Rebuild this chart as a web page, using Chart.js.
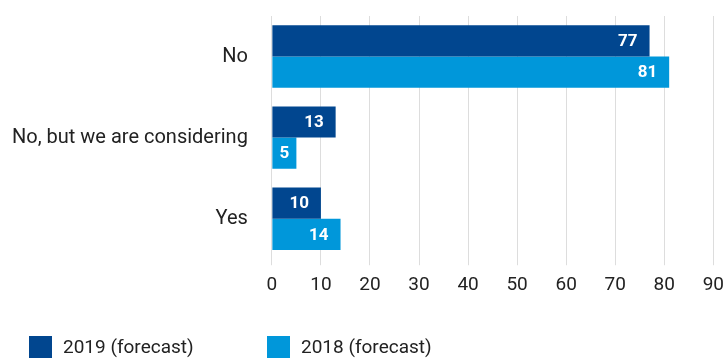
<!DOCTYPE html>
<html>
<head>
<meta charset="utf-8">
<script src="https://cdn.jsdelivr.net/npm/chart.js@4"></script>
<style>
  html, body { margin: 0; padding: 0; background: #fff; }
  #wrap { width: 727px; height: 360px; }
</style>
</head>
<body>
<div id="wrap"><canvas id="c" width="727" height="360"></canvas></div>
<script>
// Survey answers and share of respondents (%)
const categories = ['No', 'No, but we are considering', 'Yes'];
const seriesNames = ['2019 (forecast)', '2018 (forecast)'];
const values2019 = [77, 13, 10];
const values2018 = [81, 5, 14];
const xTicks = [0, 10, 20, 30, 40, 50, 60, 70, 80, 90];

const DARK = '#01468F';
const LIGHT = '#0097DA';
const FONT = 'Roboto, "Liberation Sans", sans-serif';

// White value labels at the end of each bar
const barValues = {
  id: 'barValues',
  afterDatasetsDraw(chart) {
    const ctx = chart.ctx;
    ctx.save();
    ctx.font = 'bold 17px ' + FONT;
    ctx.fillStyle = '#ffffff';
    ctx.textBaseline = 'middle';
    chart.data.datasets.forEach((ds, di) => {
      const meta = chart.getDatasetMeta(di);
      meta.data.forEach((bar, i) => {
        const v = ds.data[i];
        const len = bar.x - bar.base;
        if (len < 40) {
          ctx.textAlign = 'center';
          ctx.fillText(String(v), (bar.x + bar.base) / 2, bar.y + 1);
        } else {
          ctx.textAlign = 'right';
          ctx.fillText(String(v), bar.x - 12, bar.y + 1);
        }
      });
    });
    ctx.restore();
  }
};

// Legend laid out in fixed-width columns under the chart
const columnLegend = {
  id: 'columnLegend',
  afterDraw(chart) {
    const ctx = chart.ctx;
    ctx.save();
    ctx.font = '19px ' + FONT;
    ctx.textBaseline = 'middle';
    ctx.textAlign = 'left';
    const y = chart.height - 13;
    chart.data.datasets.forEach((ds, i) => {
      const x = 29 + i * 238;
      ctx.fillStyle = ds.backgroundColor;
      ctx.fillRect(x, y - 11, 23, 22);
      ctx.fillStyle = '#222222';
      ctx.fillText(ds.label, x + 34, y + 1);
    });
    ctx.restore();
  }
};

new Chart(document.getElementById('c'), {
  type: 'bar',
  data: {
    labels: categories,
    datasets: [
      { label: seriesNames[0], data: values2019, backgroundColor: DARK },
      { label: seriesNames[1], data: values2018, backgroundColor: LIGHT }
    ]
  },
  options: {
    indexAxis: 'y',
    responsive: false,
    animation: false,
    devicePixelRatio: 1,
    categoryPercentage: 0.77,
    barPercentage: 1.0,
    layout: { padding: { left: 8, right: 1, top: 11, bottom: 54 } },
    plugins: {
      legend: { display: false },
      tooltip: { enabled: false }
    },
    scales: {
      x: {
        min: 0,
        max: 90,
        afterBuildTicks(scale) { scale.ticks = xTicks.map(v => ({ value: v })); },
        grid: { color: '#dddddd', lineWidth: 1, drawTicks: true, tickLength: 6 },
        border: { display: false },
        ticks: { font: { family: FONT, size: 19, lineHeight: 1.83 }, color: '#222222', padding: 3 }
      },
      y: {
        grid: { display: false, drawTicks: true, tickLength: 20 },
        border: { display: false },
        ticks: { font: { family: FONT, size: 20 }, color: '#222222', padding: 4 }
      }
    }
  },
  plugins: [barValues, columnLegend]
});
</script>
</body>
</html>
